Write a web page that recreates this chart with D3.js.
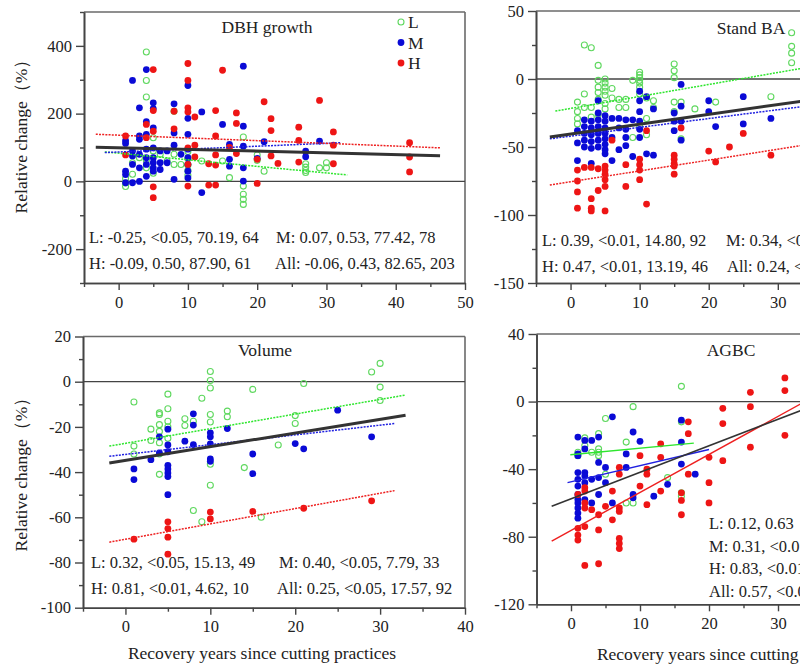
<!DOCTYPE html>
<html>
<head>
<meta charset="utf-8">
<script src="https://cdn.jsdelivr.net/npm/d3@7"></script>
<style>
    body { margin: 0; background: #fff; }
    svg { display: block; }
    text { font-family: "Liberation Serif", "Times New Roman", serif; fill: #222; }
</style>
</head>
<body>
<div id="chart"></div>
<script>
/*
four panel scatter: relative change vs recovery years, L/M/H cutting intensity
 */

//points [year, relative change %] per panel and intensity
var dbhL = [[1,-15],[1,-5],[1,8],[2,21],[2,55],[3,70],[4,382],[4,298],[4,249],[4,62],[4,40],[5,129],[5,24],[5,90],[6,80],[7,60],[8,207],[8,80],[8,50],[9,50],[10,88],[10,68],[10,48],[10,32],[10,18],[12,60],[15,60],[16,11],[18,131],[18,-14],[18,-38],[18,-53],[18,-68],[20,78],[20,62],[21,30],[27,52],[27,42],[27,32],[27,26],[29,40],[30,55],[30,40]];
var dbhM = [[1,120],[1,112],[1,30],[1,20],[1,-4],[2,298],[2,90],[2,75],[2,50],[2,-4],[3,217],[3,134],[3,124],[3,80],[3,40],[3,0],[4,330],[4,176],[4,139],[4,95],[4,70],[4,50],[4,15],[5,232],[5,215],[5,158],[5,99],[5,70],[5,55],[5,40],[5,30],[6,90],[6,55],[6,35],[7,90],[7,55],[8,229],[8,143],[8,107],[8,6],[9,80],[10,283],[10,186],[10,139],[10,95],[10,70],[10,50],[10,30],[10,10],[12,205],[12,-33],[15,168],[16,109],[16,65],[16,45],[18,340],[18,163],[18,104],[18,40],[18,1],[20,68],[21,117],[27,89],[27,73],[29,119]];
var dbhH = [[1,134],[1,78],[4,168],[4,129],[5,330],[5,209],[5,148],[5,-16],[5,-48],[8,207],[8,155],[10,348],[10,298],[10,217],[10,205],[10,99],[10,50],[10,-14],[11,190],[11,107],[11,72],[13,52],[13,-11],[14,209],[14,134],[14,78],[14,48],[14,-11],[15,328],[16,100],[17,202],[17,171],[17,82],[20,65],[20,-6],[21,235],[22,185],[22,150],[22,75],[23,53],[26,160],[26,121],[26,57],[29,239],[31,146],[31,107],[31,52],[42,114],[42,72],[42,28]];

var baL = [[1,-17],[1,-24],[1,-29],[1,-33],[2,25],[2,-11],[2,-21],[3,23],[3,-21],[3,-28],[4,10],[4,-1],[4,-6],[4,-10],[4,-15],[4,-26],[5,0],[5,-3],[5,-6],[5,-9],[5,-12],[5,-18],[5,-22],[6,-7],[6,-14],[7,-15],[7,-21],[8,-15],[8,-21],[9,-1],[9,-43],[10,5],[10,3],[10,1],[10,-1],[10,-3],[10,-6],[10,-11],[10,-35],[11,-14],[11,-29],[11,-41],[12,-16],[12,-21],[15,11],[15,6],[15,1],[15,-17],[15,-24],[16,-17],[16,-44],[18,-22],[21,-17],[29,-13],[32,34],[32,24],[32,19],[32,12]];
var baM = [[1,-38],[1,-47],[1,-60],[2,-30],[2,-35],[2,-40],[2,-45],[2,-50],[3,-31],[3,-36],[3,-41],[3,-46],[3,-51],[3,-62],[4,-16],[4,-25],[4,-30],[4,-35],[4,-40],[4,-45],[4,-50],[5,-27],[5,-31],[5,-36],[5,-40],[5,-44],[5,-48],[5,-52],[5,-55],[6,-29],[6,-43],[6,-60],[7,-29],[7,-36],[7,-52],[8,-30],[8,-37],[8,-43],[8,-49],[9,-30],[9,-57],[10,-9],[10,-16],[10,-24],[10,-31],[10,-37],[10,-43],[11,-13],[11,-55],[12,-22],[12,-56],[15,-25],[15,-31],[15,-38],[16,-4],[16,-20],[16,-31],[16,-45],[20,-16],[20,-24],[21,-35],[25,-13],[25,-33],[29,-29]];
var baH = [[1,-67],[1,-75],[1,-83],[1,-95],[2,-65],[3,-65],[3,-88],[3,-95],[3,-97],[4,-66],[4,-82],[5,-64],[5,-67],[5,-70],[5,-74],[5,-79],[5,-97],[6,-45],[8,-63],[8,-79],[10,-59],[10,-63],[10,-67],[10,-74],[11,-38],[11,-92],[15,-56],[15,-59],[15,-62],[15,-64],[15,-70],[16,-36],[20,-53],[21,-61],[23,-50],[25,-40],[29,-56]];

var volL = [[1,-9],[1,-28.5],[1,-32],[3,-21],[3,-26],[4,-13.8],[4,-14.5],[4,-19],[4,-22],[4,-27],[4,-32],[4,-41],[5,-5.5],[5,-12],[5,-17.5],[5,-20],[5,-25],[7,-16.4],[7,-19.4],[8,-17.5],[8,-57],[9,-7.3],[9,-62],[10,4.5],[10,0.5],[10,-2.8],[10,-14.5],[10,-17.8],[10,-36.5],[10,-45.8],[12,-13],[12,-15.5],[14,-38],[15,-3.4],[16,-60],[18,-28],[20,-15],[20,-18.5],[21,-0.8],[29,4.3],[30,8.1],[30,-2.4],[30,-8.3]];
var volM = [[1,-38.6],[1,-43.3],[3,-34.5],[4,-24.4],[4,-31.5],[5,-21],[5,-28],[5,-31],[5,-37],[5,-38.6],[5,-40.4],[5,-42],[5,-50],[7,-26.3],[8,-14.2],[8,-19.2],[8,-27.8],[10,-22.6],[10,-24.4],[10,-27.5],[10,-34.2],[10,-35.2],[12,-20.7],[15,-32],[15,-40.7],[20,-27.4],[21,-29.7],[25,-12.6],[29,-24.4]];
var volH = [[1,-69.7],[5,-62],[5,-65],[5,-68.8],[5,-76.3],[10,-57.7],[10,-60.7],[15,-57.4],[21,-56],[29,-52.7]];

var agbcL = [[1,-30],[1,-32],[2,-21.5],[2,-26],[3,-30],[4,-19],[4,-28],[4,-30],[4,-32],[5,-10],[5,-43],[8,-24],[8,-60],[9,-3],[9,-60],[14,-45],[16,9],[16,-12],[16,-54],[16,-56]];
var agbcM = [[1,-21],[1,-31],[1,-32],[1,-42],[1,-46],[1,-50],[1,-55],[1,-58],[1,-60],[1,-63],[1,-66],[1,-69],[2,-23],[2,-28],[2,-42],[2,-44],[2,-48],[2,-58],[3,-23],[3,-46],[3,-60],[4,-21],[4,-36],[4,-45],[4,-55],[5,-39],[5,-48],[6,-9],[6,-60],[8,-31],[8,-39],[9,-18],[9,-55],[9,-57],[10,-23.5],[12,-56],[14,-49],[16,-11],[16,-24],[16,-37],[18,-43]];
var agbcH = [[1,-55],[1,-75],[1,-79],[1,-82],[2,-51],[2,-53],[2,-60],[2,-63],[2,-74],[2,-97],[3,-64],[4,-67],[4,-76],[4,-96],[5,-62],[6,-53],[6,-70],[7,-39],[7,-43],[7,-63],[7,-65],[7,-81],[7,-84],[7,-87],[10,-32],[10,-50],[11,-40],[11,-43],[11,-61],[13,-25],[13,-33],[13,-53],[16,-54],[16,-58.5],[16,-67],[17,-12],[17,-19],[17,-43],[20,-33],[20,-48],[20,-60],[22,-4],[22,-13],[22,-35],[26,5.5],[26,-3],[26,-27],[31,14],[31,6.5],[31,-20]];

//regression lines, [start, end] in data units
var dbhFitL = [[-2,87],[33,19]];
var dbhFitM = [[-2,85],[32,114]];
var dbhFitH = [[-3.3,139],[46.4,99]];
var dbhFitAll = [[-3.3,101],[46.4,76]];
var baFitL = [[-2.2,-23.6],[34,8.3]];
var baFitM = [[-3,-44],[34,-20]];
var baFitH = [[-3,-78],[46,-38.8]];
var baFitAll = [[-3,-42.6],[46,-7.3]];
var volFitL = [[-1.9,-28.5],[33,-5.9]];
var volFitM = [[-1.9,-33],[31.7,-18.5]];
var volFitH = [[-1.9,-71],[31.7,-48.2]];
var volFitAll = [[-1.9,-36],[33,-14.8]];
var agbcFitL = [[-0.1,-31.5],[17.8,-24.6]];
var agbcFitM = [[-0.5,-48],[20,-28.4]];
var agbcFitH = [[-2.8,-82.6],[40,13.7]];
var agbcFitAll = [[-2.8,-62],[40,5.2]];

//stats text: r, P, RMSE, n
var dbhStats = ["L: -0.25, <0.05, 70.19, 64", "M: 0.07, 0.53, 77.42, 78", "H: -0.09, 0.50, 87.90, 61", "All: -0.06, 0.43, 82.65, 203"];
var baStats = ["L: 0.39, <0.01, 14.80, 92", "M: 0.34, <0.01", "H: 0.47, <0.01, 13.19, 46", "All: 0.24, <0.01"];
var volStats = ["L: 0.32, <0.05, 15.13, 49", "M: 0.40, <0.05, 7.79, 33", "H: 0.81, <0.01, 4.62, 10", "All: 0.25, <0.05, 17.57, 92"];
var agbcStats = ["L: 0.12, 0.63", "M: 0.31, <0.01", "H: 0.83, <0.01", "All: 0.57, <0.01"];

//ticks
var dbhYTicks = [-200, 0, 200, 400];
var dbhYMinor = [-300, -100, 100, 300, 500];
var baYTicks = [-150, -100, -50, 0, 50];
var baYMinor = [-125, -75, -25, 25];
var volYTicks = [-100, -80, -60, -40, -20, 0, 20];
var volYMinor = [-90, -70, -50, -30, -10, 10];
var agbcYTicks = [-120, -80, -40, 0, 40];
var agbcYMinor = [-100, -60, -20, 20];
var xTicks50 = [0, 10, 20, 30, 40, 50];
var xMinor50 = [-5, 5, 15, 25, 35, 45];
var xTicks40 = [0, 10, 20, 30, 40];
var xMinor40 = [-5, 5, 15, 25, 35];

var groups = ["L", "M", "H"];
var xTitle = "Recovery years since cutting practices";
var yTitle = "Relative change（%）";

var W = 800, H = 666;
var svg = d3.select("#chart").append("svg")
    .attr("width", W)
    .attr("height", H);
svg.append("rect").attr("width", W).attr("height", H).attr("fill", "#fff");

var ptColor = {L: "#5fd85f", M: "#0a0ad6", H: "#ee1515"};
var lineColor = {L: "#2ee62e", M: "#2020e0", H: "#ee2020", All: "#333"};

function drawPanel(p) {
    var g = svg.append("g");

    var x = d3.scaleLinear().domain(p.xDomain).range([p.left, p.right]);
    var y = d3.scaleLinear().domain(p.yDomain).range([p.bottom, p.top]);

    var clipId = "clip" + p.id;
    g.append("clipPath").attr("id", clipId)
        .append("rect")
        .attr("x", p.left).attr("y", p.top)
        .attr("width", p.right - p.left).attr("height", p.bottom - p.top);

    //frame top and right
    g.append("line").attr("x1", p.left).attr("x2", p.right).attr("y1", p.top).attr("y2", p.top)
        .attr("stroke", "#6a6a6a").attr("stroke-width", 1.6);
    g.append("line").attr("x1", p.right).attr("x2", p.right).attr("y1", p.top).attr("y2", p.bottom)
        .attr("stroke", "#6a6a6a").attr("stroke-width", 1.6);

    //zero line
    g.append("line")
        .attr("x1", p.left).attr("x2", p.right)
        .attr("y1", y(0)).attr("y2", y(0))
        .attr("stroke", "#444").attr("stroke-width", 1.3);

    var inner = g.append("g").attr("clip-path", "url(#" + clipId + ")");

    //points
    groups.forEach(function (k) {
        var sel = inner.selectAll(".pt" + k)
            .data(p.points[k])
            .enter().append("circle")
            .attr("cx", function (d) { return x(d[0]); })
            .attr("cy", function (d) { return y(d[1]); });
        if (k === "L") {
            sel.attr("r", 3).attr("fill", "none")
                .attr("stroke", ptColor.L).attr("stroke-width", 1.1);
        } else {
            sel.attr("r", 3.4).attr("fill", ptColor[k]);
        }
    });

    //fit lines
    var line = d3.line()
        .x(function (d) { return x(d[0]); })
        .y(function (d) { return y(d[1]); });
    ["L", "M", "H", "All"].forEach(function (k) {
        var path = inner.append("path")
            .attr("d", line(p.fits[k]))
            .attr("fill", "none")
            .attr("stroke", lineColor[k]);
        if (k === "All") {
            path.attr("stroke-width", p.solid ? 1.6 : 3);
        } else {
            path.attr("stroke-width", p.solid ? 1.4 : 1.5);
            if (!p.solid) path.attr("stroke-dasharray", "2,1.2");
        }
    });

    //axes
    var yAxis = g.append("g")
        .attr("transform", "translate(" + p.left + ",0)")
        .call(d3.axisLeft(y).tickValues(p.yTicks).tickSize(8).tickPadding(4).tickSizeOuter(0)
            .tickFormat(function (d) { return String(d); }));
    g.append("g")
        .attr("transform", "translate(" + p.left + ",0)")
        .call(d3.axisLeft(y).tickValues(p.yMinor).tickSize(4).tickSizeOuter(0).tickFormat(""));
    var xAxis = g.append("g")
        .attr("transform", "translate(0," + p.bottom + ")")
        .call(d3.axisBottom(x).tickValues(p.xTicks).tickSize(7).tickPadding(6).tickSizeOuter(0)
            .tickFormat(function (d) { return String(d); }));
    g.append("g")
        .attr("transform", "translate(0," + p.bottom + ")")
        .call(d3.axisBottom(x).tickValues(p.xMinor).tickSize(4).tickSizeOuter(0).tickFormat(""));

    g.selectAll(".domain").attr("stroke", "#444").attr("stroke-width", 1.6);
    g.selectAll(".tick line").attr("stroke", "#444").attr("stroke-width", 1.4);
    g.selectAll(".tick text")
        .style("font-family", "'Liberation Serif', serif")
        .style("font-size", "16.5px")
        .attr("fill", "#222");

    //title
    g.append("text")
        .attr("x", p.titleX).attr("y", p.titleY)
        .attr("text-anchor", "middle")
        .style("font-size", "17.5px")
        .text(p.title);

    //stats
    p.stats.forEach(function (s, i) {
        var pos = p.statPos[i];
        g.append("text")
            .attr("x", pos[0]).attr("y", pos[1])
            .style("font-size", "16.5px")
            .text(s);
    });
}

drawPanel({
    id: 1, left: 84, right: 465, top: 12, bottom: 283,
    xDomain: [-5, 50], yDomain: [-300, 500],
    xTicks: xTicks50, xMinor: xMinor50, yTicks: dbhYTicks, yMinor: dbhYMinor,
    points: {L: dbhL, M: dbhM, H: dbhH},
    fits: {L: dbhFitL, M: dbhFitM, H: dbhFitH, All: dbhFitAll},
    title: "DBH growth", titleX: 267, titleY: 33,
    stats: dbhStats,
    statPos: [[89, 243], [276, 243], [89, 269], [275, 269]]
});

drawPanel({
    id: 2, left: 536, right: 916, top: 11, bottom: 283,
    xDomain: [-5, 50], yDomain: [-150, 50],
    xTicks: xTicks50, xMinor: xMinor50, yTicks: baYTicks, yMinor: baYMinor,
    points: {L: baL, M: baM, H: baH},
    fits: {L: baFitL, M: baFitM, H: baFitH, All: baFitAll},
    title: "Stand BA", titleX: 751, titleY: 34,
    stats: baStats,
    statPos: [[542, 246], [726, 246], [542, 272], [727, 272]]
});

drawPanel({
    id: 3, left: 83, right: 465, top: 336.5, bottom: 607.7,
    xDomain: [-5, 40], yDomain: [-100, 20],
    xTicks: xTicks40, xMinor: xMinor40, yTicks: volYTicks, yMinor: volYMinor,
    points: {L: volL, M: volM, H: volH},
    fits: {L: volFitL, M: volFitM, H: volFitH, All: volFitAll},
    title: "Volume", titleX: 265, titleY: 356,
    stats: volStats,
    statPos: [[91, 568], [279, 568], [91, 594], [277, 594]]
});

drawPanel({
    id: 4, left: 536.5, right: 916, top: 334, bottom: 604.3, solid: true,
    xDomain: [-5, 50], yDomain: [-120, 40],
    xTicks: xTicks50, xMinor: xMinor50, yTicks: agbcYTicks, yMinor: agbcYMinor,
    points: {L: agbcL, M: agbcM, H: agbcH},
    fits: {L: agbcFitL, M: agbcFitM, H: agbcFitH, All: agbcFitAll},
    title: "AGBC", titleX: 731, titleY: 356,
    stats: agbcStats,
    statPos: [[709, 529], [709, 552], [709, 574], [709, 597]]
});

//legend (first panel)
var legend = svg.append("g");
groups.forEach(function (k, i) {
    var ly = 22 + i * 20.5;
    if (k === "L") {
        legend.append("circle").attr("cx", 401).attr("cy", ly).attr("r", 3)
            .attr("fill", "none").attr("stroke", ptColor.L).attr("stroke-width", 1.1);
    } else {
        legend.append("circle").attr("cx", 401).attr("cy", ly).attr("r", 3.4)
            .attr("fill", ptColor[k]);
    }
    legend.append("text").attr("x", 408).attr("y", ly + 6)
        .style("font-size", "17.5px").text(k);
});

//axis titles
[[27, 132], [27, 470]].forEach(function (c) {
    svg.append("text")
        .attr("transform", "translate(" + c[0] + "," + c[1] + ") rotate(-90)")
        .attr("text-anchor", "middle")
        .style("font-size", "17.5px")
        .text(yTitle);
});
[[262, 659], [731, 660]].forEach(function (c) {
    svg.append("text")
        .attr("x", c[0]).attr("y", c[1])
        .attr("text-anchor", "middle")
        .style("font-size", "17.5px")
        .text(xTitle);
});
</script>
</body>
</html>
